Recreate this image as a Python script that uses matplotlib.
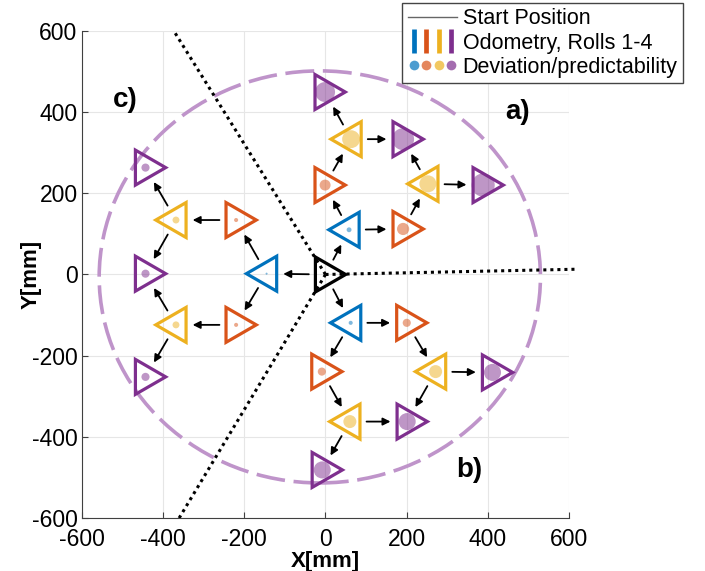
import numpy as np
import matplotlib
matplotlib.use('Agg')
import matplotlib.pyplot as plt
from matplotlib.patches import Polygon, Circle, Ellipse
from matplotlib.lines import Line2D
from matplotlib.legend_handler import HandlerTuple

plt.rcParams['font.family'] = ['Liberation Sans', 'DejaVu Sans']
plt.rcParams['axes.unicode_minus'] = False

# triangle centroids [mm]; roll 0 = start, 1-4 = odometry rolls
node_x = [0,
          58, -1, 191, 63, 252, -1, 191, 388,
          62, 200, -9, 271, 60, 201, 411, -8,
          -145, -220, -220, -368, -368, -443, -443, -443]
node_y = [0,
          110, 220, 112, 333, 223, 449, 333, 220,
          -119, -119, -239, -239, -362, -362, -241, -481,
          2, 134, -124, 134, -124, 263, 2, -252]
node_roll = [0,
             1, 2, 2, 3, 3, 4, 4, 4,
             1, 2, 2, 3, 3, 4, 4, 4,
             1, 2, 2, 3, 3, 4, 4, 4]
# deviation dot diameter [mm]
node_dev = [4,
            12, 27, 30, 44, 42, 49, 54, 57,
            10, 20, 20, 32, 32, 42, 42, 42,
            5, 10, 10, 17, 17, 20, 20, 20]
# arrows between nodes (from, to)
edges = [(0, 1), (1, 2), (1, 3), (2, 4), (4, 6), (4, 7), (3, 5), (5, 7), (5, 8),
         (0, 9), (9, 10), (9, 11), (10, 12), (11, 13), (12, 15), (12, 14), (13, 14), (13, 16),
         (0, 17), (17, 18), (17, 19), (18, 20), (19, 21), (20, 22), (20, 23), (21, 23), (21, 24)]

# boundary lines from the start position
ray_x = [621, -370, -363]
ray_y = [13, 594, -604]

ticks = [-600, -400, -200, 0, 200, 400, 600]
group_labels = ['a)', 'b)', 'c)']
group_lx = [473, 354, -492]
group_ly = [400, -482, 429]

roll_colors = ['black', '#0072BD', '#D95319', '#EDB120', '#7E2F8E']

fig = plt.figure(figsize=(7.05, 5.71), dpi=100)
ax = fig.add_axes([0.1159, 0.0923, 0.6916, 0.854])
ax.set_xlim(-600, 600)
ax.set_ylim(-600, 600)

ax.grid(True, color='#e6e6e6', lw=0.8, zorder=0)
ax.set_axisbelow(True)
ax.set_xticks(ticks)
ax.set_yticks(ticks)
ax.tick_params(direction='in', length=4, width=0.8, color='#404040', labelsize=16.5)
ax.tick_params(axis='x', pad=7)
ax.tick_params(axis='y', pad=3)
for s in ['top', 'right']:
    ax.spines[s].set_visible(False)
for s in ['left', 'bottom']:
    ax.spines[s].set_color('#404040')
    ax.spines[s].set_linewidth(0.8)

# reachable range
ax.add_patch(Ellipse((-14, -6), 1086, 1014, fill=False, ec='#bf94ca', lw=2.6,
                     ls=(0, (8, 2.4)), zorder=2))

# start position rays
for i in range(len(ray_x)):
    ax.plot([0, ray_x[i]], [0, ray_y[i]], color='k', lw=2.2,
            ls=(0, (1, 1.3)), zorder=3, clip_on=(i != 0))

side = 86.0
w = side * np.sqrt(3) / 2

for i in range(len(node_x)):
    x, y, r = node_x[i], node_y[i], node_roll[i]
    c = roll_colors[r]
    ax.add_patch(Circle((x, y), node_dev[i] / 2, color=c, alpha=0.5, lw=0, zorder=4))
    d = -1 if r in (1, 3) else 1
    verts = [(x + d * 2 * w / 3, y), (x - d * w / 3, y + side / 2), (x - d * w / 3, y - side / 2)]
    ax.add_patch(Polygon(verts, closed=True, fill=False, ec=c, lw=2.3,
                         joinstyle='miter', zorder=5))

for a, b in edges:
    ax.annotate('', xy=(node_x[b], node_y[b]), xytext=(node_x[a], node_y[a]),
                arrowprops=dict(arrowstyle='-|>', color='k', lw=1.3, mutation_scale=11,
                                shrinkA=12, shrinkB=12), zorder=6)

for i in range(len(group_labels)):
    ax.text(group_lx[i], group_ly[i], group_labels[i], fontsize=20, fontweight='bold',
            ha='center', va='center')

ax.set_xlabel('X[mm]', fontsize=16, fontweight='bold', labelpad=0)
ax.set_ylabel('Y[mm]', fontsize=16, fontweight='bold', labelpad=-7)

# legend
h_start = Line2D([], [], color='#666666', lw=1)
h_odo = tuple(Line2D([], [], ls='none', marker='|', markersize=17, mew=3.4, color=c)
              for c in roll_colors[1:])
h_dev = tuple(Line2D([], [], ls='none', marker='o', markersize=7, mec='none', color=c, alpha=0.7)
              for c in roll_colors[1:])
fig.legend([h_start, h_odo, h_dev],
           ['Start Position', 'Odometry, Rolls 1-4', 'Deviation/predictability'],
           handler_map={tuple: HandlerTuple(ndivide=None, pad=0)},
           loc='upper right', bbox_to_anchor=(683 / 705, 1 - 3 / 571),
           fontsize=15.5, frameon=True, fancybox=False, edgecolor='#444444',
           framealpha=1, borderpad=0.25, handlelength=2.3, handletextpad=0.25,
           labelspacing=0.15, borderaxespad=0)

fig.savefig('out.png', dpi=100)
